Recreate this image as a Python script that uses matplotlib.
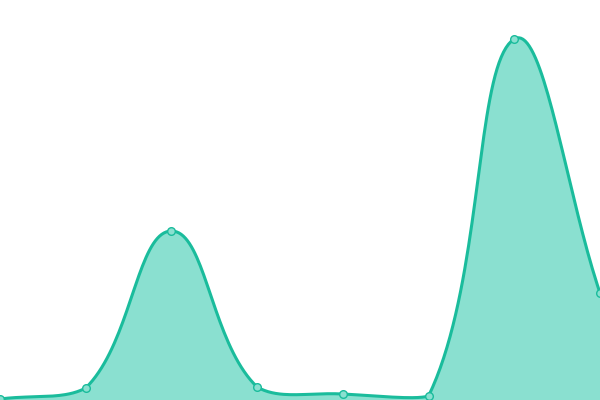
import numpy as np
import matplotlib.pyplot as plt

# значения точек (ось y от 0 до 400)
categories = [0, 1, 2, 3, 4, 5, 6, 7]
values = [1, 12, 169, 13, 6, 4, 361, 107]

line_color = "#1abc9c"
fill_color = "#8ae0d0"

W, H = 600, 400
tension = 0.4


def spline(xs, ys, steps=40):
    # сглаживание как в Chart.js (tension 0.4, контрольные точки обрезаются по области)
    pts = np.column_stack([xs, ys]).astype(float)
    n = len(pts)
    cp_prev = pts.copy()
    cp_next = pts.copy()
    for i in range(n):
        prev = pts[max(i - 1, 0)]
        cur = pts[i]
        nxt = pts[min(i + 1, n - 1)]
        d01 = np.hypot(*(cur - prev))
        d12 = np.hypot(*(nxt - cur))
        s = d01 + d12
        fa = tension * d01 / s if s else 0
        fb = tension * d12 / s if s else 0
        cp_prev[i] = cur - fa * (nxt - prev)
        cp_next[i] = cur + fb * (nxt - prev)
    for cp in (cp_prev, cp_next):
        cp[:, 0] = np.clip(cp[:, 0], 0, W)
        cp[:, 1] = np.clip(cp[:, 1], 0, H)
    t = np.linspace(0, 1, steps)[:, None]
    out = []
    for i in range(n - 1):
        p0, c1, c2, p3 = pts[i], cp_next[i], cp_prev[i + 1], pts[i + 1]
        b = (1 - t) ** 3 * p0 + 3 * (1 - t) ** 2 * t * c1 + 3 * (1 - t) * t ** 2 * c2 + t ** 3 * p3
        out.append(b)
    out = np.vstack(out)
    return out[:, 0], out[:, 1]


px = np.array(categories) * W / (len(categories) - 1)
sx, sy = spline(px, values)

fig = plt.figure(figsize=(6, 4), dpi=100)
ax = fig.add_axes([0, 0, 1, 1])
ax.fill_between(sx, sy, 0, color=fill_color, linewidth=0)
ax.plot(sx, sy, color=line_color, linewidth=2.2, solid_capstyle="round")
ax.plot(px, values, "o", markersize=5.5, markerfacecolor=fill_color,
        markeredgecolor=line_color, markeredgewidth=1)
ax.set_xlim(0, W)
ax.set_ylim(0, H)
ax.axis("off")
fig.savefig("out.png", dpi=100)
